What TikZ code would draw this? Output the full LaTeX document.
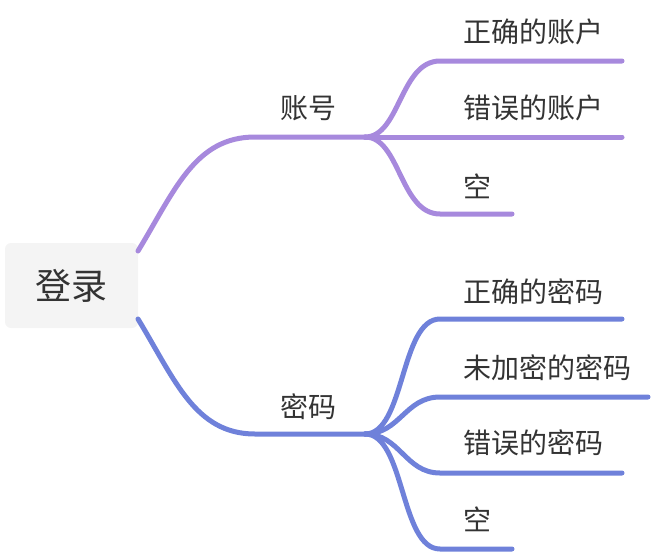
\documentclass[tikz,border=0pt]{standalone}
\usepackage{fontspec}
\setmainfont{Noto Sans CJK SC}
\definecolor{purp}{RGB}{167,137,221}
\definecolor{blu}{RGB}{111,129,218}
\definecolor{rootbg}{RGB}{244,244,244}
\definecolor{txt}{RGB}{51,51,51}
\begin{document}
\begin{tikzpicture}[x=1pt,y=-1pt,
  lbl/.style={font=\fontsize{28}{31}\selectfont, text=txt, inner sep=0pt, anchor=west},
  blbl/.style={font=\fontsize{28}{31}\selectfont, text=txt, inner sep=0pt},
  pu/.style={draw=purp, line width=5pt, line cap=round},
  bl/.style={draw=blu, line width=5pt, line cap=round}]
\useasboundingbox (0,0) rectangle (652,554);
\node[fill=rootbg, rounded corners=6pt, minimum width=133pt, minimum height=85pt,
  inner sep=0pt, font=\fontsize{36}{40}\selectfont, text=txt] (root) at (71.5,285.5) {登录};
% branch labels
\node[blbl] (acc) at (308,108) {账号};
\node[blbl] (pwd) at (308,407) {密码};
% leaves
\node[lbl] (a1) at (463,32) {正确的账户};
\node[lbl] (a2) at (463,108) {错误的账户};
\node[lbl] (a3) at (463,186) {空};
\node[lbl] (p1) at (463,292) {正确的密码};
\node[lbl] (p2) at (463,368) {未加密的密码};
\node[lbl] (p3) at (463,443) {错误的密码};
\node[lbl] (p4) at (463,519) {空};
% coordinates
\coordinate (ra) at (138,251);
\coordinate (rb) at (138,319);
\coordinate (fa) at (365,137);
\coordinate (fb) at (365,434);
\coordinate (ea1) at (622,61);
\coordinate (ea2) at (622,137);
\coordinate (ea3) at (512,214);
\coordinate (eb1) at (622,319);
\coordinate (eb2) at (648,397);
\coordinate (eb3) at (622,473);
\coordinate (eb4) at (512,549);
% purple branch
\draw[pu] (ra) .. controls (175,190) and (195,137) .. (255,137) -- (fa);
\draw[pu] (fa) .. controls (400,137) and (400,61) .. (440,61) -- (ea1);
\draw[pu] (fa) -- (ea2);
\draw[pu] (fa) .. controls (400,137) and (400,214) .. (440,214) -- (ea3);
% blue branch
\draw[bl] (rb) .. controls (175,380) and (195,434) .. (255,434) -- (fb);
\draw[bl] (fb) .. controls (405,434) and (400,319) .. (440,319) -- (eb1);
\draw[bl] (fb) .. controls (400,434) and (405,397) .. (440,397) -- (eb2);
\draw[bl] (fb) .. controls (400,434) and (405,473) .. (440,473) -- (eb3);
\draw[bl] (fb) .. controls (405,434) and (400,549) .. (440,549) -- (eb4);
\end{tikzpicture}
\end{document}
